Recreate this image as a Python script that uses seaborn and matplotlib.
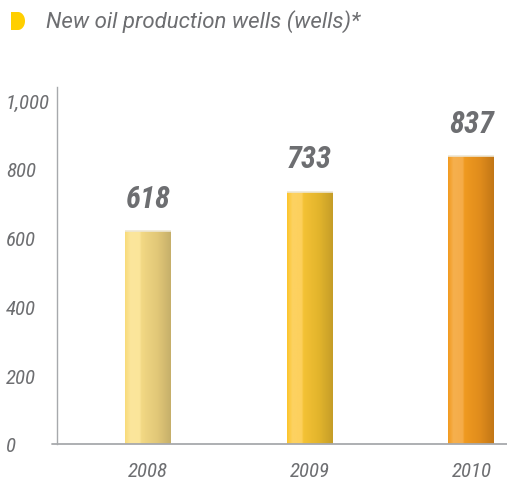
import numpy as np
import pandas as pd
import matplotlib
matplotlib.use("Agg")
import matplotlib.pyplot as plt
from matplotlib.colors import LinearSegmentedColormap
from matplotlib.patches import Polygon
import seaborn as sns

years = ["2008", "2009", "2010"]
wells = [618, 733, 837]
value_labels = ["618", "733", "837"]
y_ticks = [0, 200, 400, 600, 800, 1000]
y_tick_labels = ["0", "200", "400", "600", "800", "1,000"]
title = "New oil production wells (wells)*"

# horizontal shading stops for each bar: (position across bar, colour)
bar_shades = [
    [(0.0, "#F8DB78"), (0.12, "#FCE69C"), (0.32, "#FBE59A"), (0.36, "#F2D884"),
     (0.7, "#E2C878"), (1.0, "#C6AF6A")],
    [(0.0, "#FCC42A"), (0.12, "#FDD262"), (0.32, "#FDD05C"), (0.36, "#F4C235"),
     (0.7, "#E2B42C"), (1.0, "#C59D28")],
    [(0.0, "#F29A1E"), (0.12, "#F6B04E"), (0.32, "#F5AC48"), (0.36, "#EF9A20"),
     (0.7, "#E08C1C"), (1.0, "#C27616")],
]

GRAY = "#6D6E71"
AXIS = "#A7A9AC"
NARROW = ["Roboto Condensed", "Liberation Sans Narrow", "Roboto", "DejaVu Sans"]

sns.set_theme(style="white")
plt.rcParams["font.family"] = ["Roboto", "DejaVu Sans"]

df = pd.DataFrame({"year": years, "wells": wells})

fig = plt.figure(figsize=(5.07, 4.81), dpi=100)
W, H = 507, 481
ax_left, ax_right, ax_bottom, ax_top = 57, 507, 445, 88
ax = fig.add_axes([ax_left / W, 1 - ax_bottom / H,
                   (ax_right - ax_left) / W, (ax_bottom - ax_top) / H])

sns.barplot(data=df, x="year", y="wells", ax=ax, width=0.284,
            color="#F2D884", edgecolor="none", linewidth=0)

# y scale: 1,000 sits near the top of the spine
ymax = 1000 * (ax_bottom - ax_top) / (ax_bottom - 101)
xlo, xhi = -0.562, 2.22

# shaded fill for each bar, clipped to the bar rectangle
for patch, stops in zip(ax.patches, bar_shades):
    x0, w, h = patch.get_x(), patch.get_width(), patch.get_height()
    cmap = LinearSegmentedColormap.from_list("shade", stops)
    grad = np.linspace(0, 1, 256).reshape(1, -1)
    im = ax.imshow(grad, cmap=cmap, extent=[x0, x0 + w, 0, h],
                   aspect="auto", interpolation="bilinear", zorder=2.5)
    im.set_clip_path(patch)
    # thin light rim along the top edge
    ax.plot([x0, x0 + w], [h, h], color="#EDE7D6", lw=1.2, zorder=2.6,
            solid_capstyle="butt")

ax.set_xlim(xlo, xhi)
ax.set_ylim(0, ymax)

# value labels above bars
for i, (v, lab) in enumerate(zip(wells, value_labels)):
    ax.annotate(lab, (i, v), xytext=(0, 33), textcoords="offset pixels",
                ha="center", va="center", fontsize=22, fontweight="bold",
                fontstyle="italic", color=GRAY, family=NARROW)

# axes styling
for s in ["top", "right", "bottom"]:
    ax.spines[s].set_visible(False)
ax.spines["left"].set_color(AXIS)
ax.spines["left"].set_linewidth(1.0)
ax.plot([-0.012, 1.0], [0, 0], transform=ax.transAxes, color=AXIS, lw=1.3,
        clip_on=False, zorder=3)

ax.set_yticks(y_ticks)
ax.set_yticklabels(y_tick_labels)
ax.tick_params(axis="y", length=0, pad=51 * 72 / 100, labelsize=15,
               labelcolor=GRAY)
for t in ax.get_yticklabels():
    t.set_horizontalalignment("left")
    t.set_fontstyle("italic")
    t.set_family(NARROW)
ax.tick_params(axis="x", length=0, pad=12, labelsize=15, labelcolor=GRAY)
for t in ax.get_xticklabels():
    t.set_fontstyle("italic")
    t.set_family(NARROW)
ax.set_xlabel("")
ax.set_ylabel("")
ax.grid(False)

# title marker: square left side, rounded right side
cx, cy, rx, ry = 18, 22, 7, 9
theta = np.linspace(np.pi / 2, -np.pi / 2, 40)
pts = [(11, cy - ry), (11, cy + ry)] + [(cx + rx * np.cos(t), cy + ry * np.sin(t)) for t in theta]
pts = [((px) / W, 1 - (py) / H) for px, py in pts]
fig.patches.append(Polygon(pts, closed=True, transform=fig.transFigure,
                           facecolor="#FFCF00", edgecolor="none"))
fig.text(46 / W, 1 - 22 / H, title, ha="left", va="center", fontsize=16,
         fontstyle="italic", color=GRAY)

fig.savefig("out.png", dpi=100)
